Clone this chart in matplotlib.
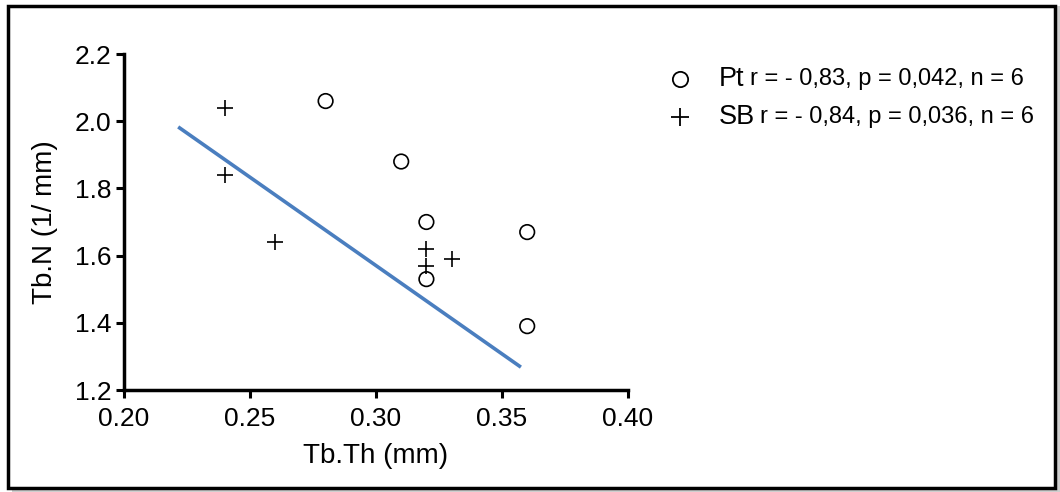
import matplotlib.pyplot as plt
from matplotlib.patches import Rectangle
from matplotlib import font_manager

# data
pt_x = [0.28, 0.31, 0.32, 0.32, 0.36, 0.36]
pt_y = [2.06, 1.88, 1.70, 1.53, 1.67, 1.39]
sb_x = [0.24, 0.24, 0.26, 0.32, 0.32, 0.33]
sb_y = [2.04, 1.84, 1.64, 1.62, 1.57, 1.59]
fit_x = [0.2215, 0.3575]
fit_y = [1.983, 1.268]
x_ticks = [0.20, 0.25, 0.30, 0.35, 0.40]
y_ticks = [1.2, 1.4, 1.6, 1.8, 2.0, 2.2]
legend_names = ['Pt', 'SB']
legend_stats = ['r = - 0,83, p = 0,042, n = 6', 'r = - 0,84, p = 0,036, n = 6']

names = {f.name for f in font_manager.fontManager.ttflist}
narrow = 'Liberation Sans Narrow' if 'Liberation Sans Narrow' in names else 'Liberation Sans'
plt.rcParams['font.family'] = ['Liberation Sans', 'DejaVu Sans']

fig = plt.figure(figsize=(10.6, 4.92), dpi=100)
W, H = 1060, 492

# outer frame with shadow
fig.patches.append(Rectangle((12 / W, 0), 1048 / W, 486 / H, transform=fig.transFigure,
                             facecolor='#cfcfcf', edgecolor='none', zorder=0))
fig.patches.append(Rectangle((8 / W, 1 - 488 / H), 1047 / W, 482 / H, transform=fig.transFigure,
                             facecolor='white', edgecolor='black', linewidth=2.5, zorder=1))

ax = fig.add_axes([124 / W, 1 - 390 / H, 504 / W, 336 / H])
ax.set_zorder(2)
ax.patch.set_alpha(0)

ax.plot(fit_x, fit_y, color='#4a7ebf', linewidth=2.6, solid_capstyle='butt')
ax.scatter(pt_x, pt_y, s=110, facecolors='none', edgecolors='black', linewidths=1.2, zorder=3)
ax.scatter(sb_x, sb_y, s=120, marker='+', color='black', linewidths=1.2, zorder=3)

ax.set_xlim(0.20, 0.40)
ax.set_ylim(1.2, 2.2)
ax.set_xticks(x_ticks)
ax.set_yticks(y_ticks)
ax.set_xticklabels([f'{v:.2f}' for v in x_ticks], fontfamily=narrow, fontsize=19)
ax.set_yticklabels([f'{v:.1f}' for v in y_ticks], fontfamily=narrow, fontsize=19)
ax.spines['top'].set_visible(False)
ax.spines['right'].set_visible(False)
for s in ['left', 'bottom']:
    ax.spines[s].set_linewidth(2.5)
ax.tick_params(direction='out', length=6, width=2.2)
ax.tick_params(axis='x', pad=6)
ax.tick_params(axis='y', pad=3)
ax.set_xlabel('Tb.Th (mm)', fontfamily=narrow, fontsize=20, labelpad=9)
ax.set_ylabel('Tb.N (1/ mm)', fontfamily=narrow, fontsize=20, labelpad=12)

# legend drawn by hand in figure pixels
markers = ['o', '+']
for i in range(2):
    yy = 1 - (79 + i * 38) / H
    if markers[i] == 'o':
        fig.add_artist(plt.Line2D([680 / W], [yy], marker='o', markersize=11, markerfacecolor='none',
                                  markeredgecolor='black', markeredgewidth=1.3, linestyle='none'))
    else:
        fig.add_artist(plt.Line2D([680 / W], [yy], marker='+', markersize=13,
                                  markeredgecolor='black', markeredgewidth=1.3, linestyle='none'))
    t = fig.text(719 / W, yy, legend_names[i], fontsize=19.5, va='center', ha='left')
    fig.canvas.draw()
    bb = t.get_window_extent()
    fig.text((bb.x1 + 5) / W, yy, legend_stats[i], fontsize=17, va='center', ha='left')

fig.savefig('out.png', dpi=100)
